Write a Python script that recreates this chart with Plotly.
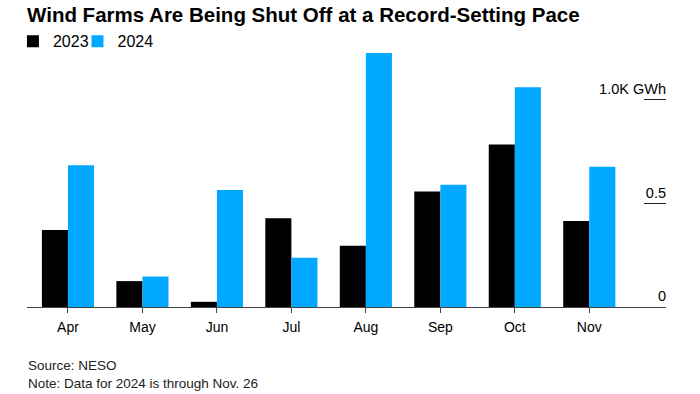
import plotly.graph_objects as go

months = ["Apr", "May", "Jun", "Jul", "Aug", "Sep", "Oct", "Nov"]
gwh_2023 = [0.371, 0.125, 0.025, 0.428, 0.296, 0.557, 0.784, 0.415]
gwh_2024 = [0.684, 0.147, 0.564, 0.238, 1.226, 0.590, 1.060, 0.677]
y_tickvals = [0, 0.5, 1.0]
y_ticktext = ["0", "0.5", "1.0K GWh"]

FONT = "Liberation Sans, Arial, sans-serif"

fig = go.Figure()
fig.add_trace(go.Bar(x=months, y=gwh_2023, name="2023", marker_color="#000000",
                     marker_line_width=0, legend="legend", showlegend=True))
fig.add_trace(go.Bar(x=months, y=gwh_2024, name="2024", marker_color="#00A9FF",
                     marker_line_width=0, legend="legend2", showlegend=True))

legend_common = dict(orientation="h", xanchor="left", y=1.03, yanchor="middle",
                     font=dict(size=16), itemwidth=30, bgcolor="rgba(0,0,0,0)")

fig.update_layout(
    width=700, height=394, showlegend=True,
    margin=dict(l=27, r=34, t=49, b=86.5, autoexpand=False),
    paper_bgcolor="white", plot_bgcolor="white",
    barmode="group", bargap=0.30, bargroupgap=0,
    font=dict(family=FONT, color="#000000"),
    title=dict(text="<b>Wind Farms Are Being Shut Off at a Record-Setting Pace</b>",
               x=0.0386, xref="container", xanchor="left", y=0.981, yanchor="top",
               font=dict(size=20.5, family=FONT, color="#000000")),
    legend=dict(x=-0.022, **legend_common),
    legend2=dict(x=0.079, **legend_common),
    xaxis=dict(range=[-0.55, 8.03], showline=True, linecolor="#444444", linewidth=1,
               ticks="outside", ticklen=5, tickcolor="#444444", ticklabelstandoff=2,
               tickfont=dict(size=14, color="#000000"), showgrid=False, zeroline=False,
               fixedrange=True),
    yaxis=dict(range=[0, 1.245], side="right", showgrid=False, zeroline=False,
               tickvals=y_tickvals, ticktext=y_ticktext, ticks="inside", ticklen=22,
               tickcolor="#222222", tickwidth=1, ticklabelposition="inside top",
               ticklabelstandoff=-3,
               tickfont=dict(size=14.5, color="#000000"), showline=False),
)

fig.add_annotation(text="Source: NESO<br>Note: Data for 2024 is through Nov. 26",
                   xref="paper", yref="paper", x=-0.002, y=-0.188, xanchor="left", yanchor="top",
                   align="left", showarrow=False,
                   font=dict(size=13.5, family=FONT, color="#222222"))

# remove the browser's default 8px body margin so the 700x394 figure fills the window
fig.write_html("out.html", config={"displayModeBar": False},
               post_script="document.body.style.margin='0';")
